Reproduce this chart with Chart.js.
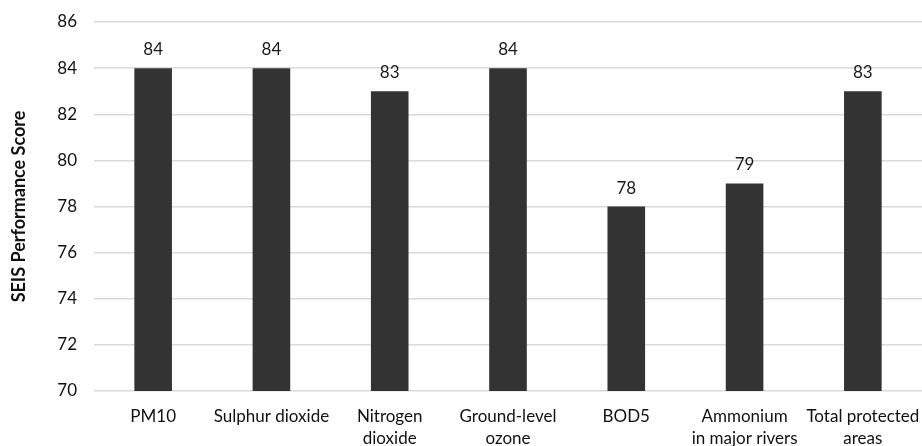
<!DOCTYPE html>
<html>
<head>
<meta charset="utf-8">
<script src="https://cdn.jsdelivr.net/npm/chart.js@4/dist/chart.umd.min.js"></script>
<style>
  html, body { margin: 0; padding: 0; background: #fff; }
  #wrap { width: 922px; height: 446px; }
</style>
</head>
<body>
<div id="wrap"><canvas id="c"></canvas></div>
<script>
const categories = [
  'PM10',
  'Sulphur dioxide',
  ['Nitrogen', 'dioxide'],
  ['Ground-level', 'ozone'],
  'BOD5',
  ['Ammonium', 'in major rivers'],
  ['Total protected', 'areas']
];
const scores = [84, 84, 83, 84, 78, 79, 83];
const yTicks = [70, 72, 74, 76, 78, 80, 82, 84, 86];

const FONT = 'Lato, "Open Sans", sans-serif';

// Writes each bar's value just above its top edge
const valueLabels = {
  id: 'valueLabels',
  afterDatasetsDraw(chart) {
    const ctx = chart.ctx;
    const meta = chart.getDatasetMeta(0);
    ctx.save();
    ctx.font = '17px ' + FONT;
    ctx.fillStyle = '#1a1a1a';
    ctx.textAlign = 'center';
    ctx.textBaseline = 'alphabetic';
    meta.data.forEach((bar, i) => {
      ctx.fillText(String(chart.data.datasets[0].data[i]), bar.x, bar.y - 13);
    });
    ctx.restore();
  }
};

new Chart(document.getElementById('c'), {
  type: 'bar',
  data: {
    labels: categories,
    datasets: [{
      data: scores,
      backgroundColor: '#333333',
      borderWidth: 0,
      categoryPercentage: 1,
      barPercentage: 0.318
    }]
  },
  options: {
    responsive: true,
    maintainAspectRatio: false,
    animation: false,
    layout: { padding: { top: 22, right: 0, bottom: 0, left: 8 } },
    plugins: { legend: { display: false }, tooltip: { enabled: false } },
    scales: {
      x: {
        afterFit(scale) {
          scale.height = 55;
          // the plot runs to the right edge; the last label may overhang
          scale.paddingRight = 0;
        },
        grid: { display: false, drawTicks: false },
        border: { display: false },
        ticks: {
          color: '#111',
          font: { family: FONT, size: 17, lineHeight: 1.3 },
          padding: 14,
          maxRotation: 0,
          autoSkip: false
        }
      },
      y: {
        min: 70,
        max: 86,
        afterBuildTicks(scale) {
          scale.ticks = yTicks.map(v => ({ value: v }));
        },
        afterFit(scale) {
          scale.width = 86;
          scale.paddingTop = 0;
          scale.paddingBottom = 0;
        },
        grid: { color: '#d9d9d9', lineWidth: 1.5, drawTicks: false },
        border: { display: false },
        ticks: {
          color: '#111',
          font: { family: FONT, size: 17 },
          padding: 17
        },
        title: {
          display: true,
          text: 'SEIS Performance Score',
          color: '#111',
          font: { family: FONT, size: 18, weight: 'bold', lineHeight: 1.2 },
          padding: { top: 0, bottom: 0 }
        }
      }
    }
  },
  plugins: [valueLabels]
});
</script>
</body>
</html>
